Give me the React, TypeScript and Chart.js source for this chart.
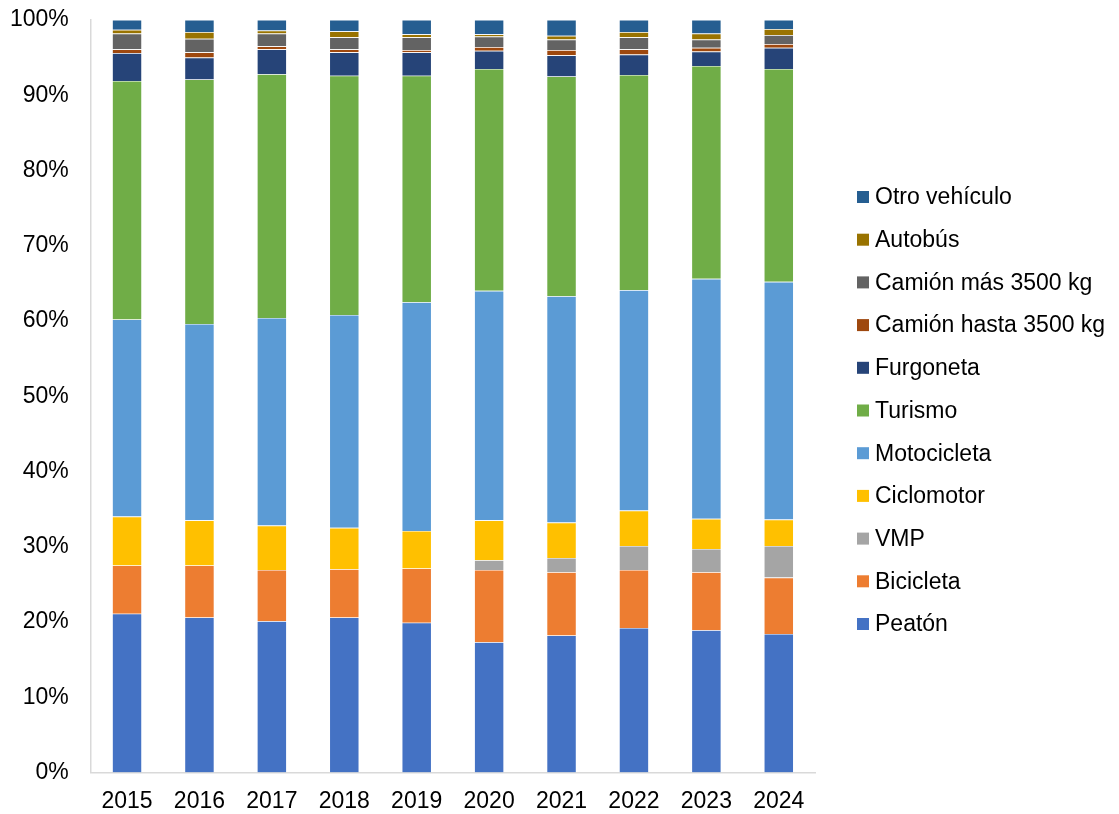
import React, { useEffect, useRef } from "react";
import { Chart, registerables } from "chart.js";

Chart.register(...registerables);

const years = ["2015", "2016", "2017", "2018", "2019", "2020", "2021", "2022", "2023", "2024"];

const peaton = [21.1, 20.6, 20.1, 20.6, 19.9, 17.3, 18.2, 19.2, 18.9, 18.4];
const bicicleta = [6.4, 6.9, 6.8, 6.4, 7.2, 9.6, 8.4, 7.7, 7.7, 7.5];
const vmp = [0, 0, 0, 0, 0, 1.3, 1.9, 3.2, 3.1, 4.2];
const ciclomotor = [6.5, 6.0, 5.9, 5.5, 5.0, 5.3, 4.7, 4.7, 4.0, 3.5];
const motocicleta = [26.2, 26.1, 27.6, 28.3, 30.4, 30.5, 30.1, 29.3, 31.9, 31.6];
const turismo = [31.7, 32.5, 32.4, 31.8, 30.1, 29.5, 29.2, 28.6, 28.3, 28.3];
const furgoneta = [3.7, 2.9, 3.3, 3.1, 3.1, 2.4, 2.8, 2.7, 1.9, 2.8];
const camionHasta = [0.5, 0.7, 0.4, 0.4, 0.3, 0.5, 0.7, 0.7, 0.5, 0.5];
const camionMas = [2.1, 1.8, 1.7, 1.6, 1.7, 1.4, 1.4, 1.6, 1.1, 1.2];
const autobus = [0.5, 0.9, 0.4, 0.8, 0.4, 0.3, 0.5, 0.7, 0.8, 0.8];
const otro = [1.3, 1.6, 1.4, 1.5, 1.9, 1.9, 2.1, 1.6, 1.8, 1.2];

const yTicks = [0, 10, 20, 30, 40, 50, 60, 70, 80, 90, 100];

const series = [
  { label: "Peatón", data: peaton, color: "#4472C4" },
  { label: "Bicicleta", data: bicicleta, color: "#ED7D31" },
  { label: "VMP", data: vmp, color: "#A5A5A5" },
  { label: "Ciclomotor", data: ciclomotor, color: "#FFC000" },
  { label: "Motocicleta", data: motocicleta, color: "#5B9BD5" },
  { label: "Turismo", data: turismo, color: "#70AD47" },
  { label: "Furgoneta", data: furgoneta, color: "#264478" },
  { label: "Camión hasta 3500 kg", data: camionHasta, color: "#9E480E" },
  { label: "Camión más 3500 kg", data: camionMas, color: "#636363" },
  { label: "Autobús", data: autobus, color: "#997300" },
  { label: "Otro vehículo", data: otro, color: "#255E91" },
];

const FONT_FAMILY = "'Liberation Sans', Arial, sans-serif";

// Legend drawn on the chart canvas (reverse order, Excel-like spacing)
const sideLegend = {
  id: "sideLegend",
  afterDraw(chart: any) {
    const ctx = chart.ctx;
    const area = chart.chartArea;
    const items = chart.data.datasets.map((d: any) => ({ label: d.label, color: d.backgroundColor })).reverse();
    const boxX = area.right + 42;
    const textX = boxX + 18;
    const firstY = 197;
    const step = 42.7;
    ctx.save();
    ctx.font = `23px ${FONT_FAMILY}`;
    ctx.textBaseline = "middle";
    ctx.textAlign = "left";
    items.forEach((it: any, i: number) => {
      const y = firstY + i * step;
      ctx.fillStyle = it.color;
      ctx.fillRect(boxX, y - 6, 12, 12);
      ctx.fillStyle = "#000";
      ctx.fillText(it.label, textX, y + 1);
    });
    ctx.restore();
  },
};

export default function App() {
  const ref = useRef<HTMLCanvasElement | null>(null);
  useEffect(() => {
    if (!ref.current) return;
    const font = { family: FONT_FAMILY, size: 23 };
    const chart = new Chart(ref.current, {
      type: "bar",
      data: {
        labels: years,
        datasets: series.map((s) => ({
          label: s.label,
          data: s.data,
          backgroundColor: s.color,
          borderColor: "rgba(255,255,255,0.35)",
          borderWidth: 0.6,
          barPercentage: 0.41,
          categoryPercentage: 1,
        })),
      },
      options: {
        animation: false,
        responsive: false,
        maintainAspectRatio: false,
        layout: { padding: { top: 20, right: 304, bottom: -8, left: 10 } },
        plugins: {
          tooltip: { enabled: false },
          legend: { display: false },
        },
        scales: {
          x: {
            stacked: true,
            grid: { display: false, drawTicks: true, tickLength: 8 },
            border: { display: true, color: "#d9d9d9", width: 1.5 },
            ticks: { font, color: "#000", padding: 7 },
          },
          y: {
            stacked: true,
            min: 0,
            max: 100,
            afterBuildTicks: (axis: any) => {
              axis.ticks = yTicks.map((v) => ({ value: v }));
            },
            grid: { display: false, drawTicks: true, tickLength: 22 },
            border: { display: true, color: "#d9d9d9", width: 1.5 },
            ticks: {
              font,
              color: "#000",
              padding: 0,
              callback: (v: any) => v + "%",
            },
          },
        },
      },
      plugins: [sideLegend],
    });
    return () => chart.destroy();
  }, []);
  return (
    <div style={{ position: "absolute", left: 0, top: 0, width: 1119, height: 814, background: "#fff" }}>
      <canvas ref={ref} width={1119} height={814} style={{ width: 1119, height: 814 }} />
    </div>
  );
}
